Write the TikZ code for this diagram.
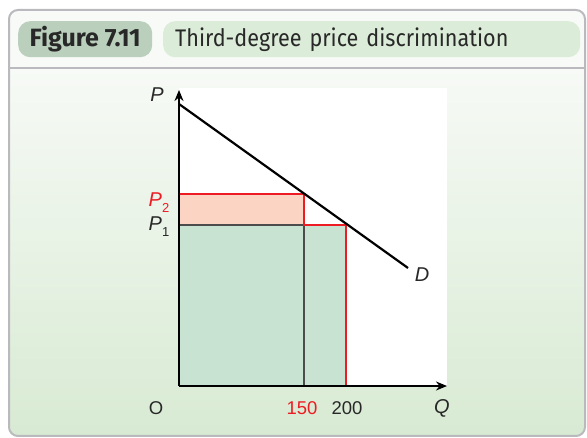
\documentclass[tikz,border=0pt]{standalone}
\usepackage{fontspec}
\setmainfont{Fira Sans}
\newfontfamily\headfont[FakeStretch=0.9]{Fira Sans}
\newfontfamily\figfont{Fira Sans}
\newfontfamily\axisfont{Liberation Sans}
\usetikzlibrary{arrows.meta,positioning}
\definecolor{framegray}{RGB}{186,186,190}
\definecolor{hdrbg}{RGB}{248,250,248}
\definecolor{pilldark}{RGB}{186,207,188}
\definecolor{pilllight}{RGB}{219,236,216}
\definecolor{bgtop}{RGB}{247,250,246}
\definecolor{bgbot}{RGB}{216,234,211}
\definecolor{peach}{RGB}{251,212,196}
\definecolor{greenfill}{RGB}{200,227,210}
\definecolor{figred}{RGB}{237,28,36}
\definecolor{ink}{RGB}{40,40,40}

\begin{document}
\begin{tikzpicture}[x=1pt, y=-1pt,
    pill/.style={rounded corners=12pt, minimum height=36pt, inner sep=0pt, anchor=north west, text=ink},
    axis/.style={line width=2pt, -{Stealth[length=11pt,width=9pt]}},
    demand/.style={line width=2.2pt},
    redline/.style={draw=figred, line width=2.8pt},
    guide/.style={draw=black!70, line width=1.4pt},
    lbl/.style={font=\axisfont\fontsize{18.5}{18.5}\selectfont, inner sep=0pt, text=ink},
    var/.style={font=\axisfont\itshape\fontsize{20}{20}\selectfont, inner sep=0pt, text=ink}
]
    \useasboundingbox (0,0) rectangle (587,438);
    \clip (0,0) rectangle (587,438);

    % Frame
    \fill[hdrbg, rounded corners=9pt] (9,10) rectangle (585,436);
    \begin{scope}
        \clip[rounded corners=9pt] (9,10) rectangle (585,436);
        \shade[top color=bgtop, bottom color=bgbot] (9,68) rectangle (585,436);
    \end{scope}
    \draw[framegray, line width=2pt, rounded corners=9pt] (9,10) rectangle (585,436);
    \draw[framegray, line width=2pt] (9,68) -- (585,68);

    % Header
    \node[pill, fill=pilldark, minimum width=134pt, font=\figfont\bfseries\fontsize{25}{25}\selectfont] (fignum) at (18,21) {Figure 7.11};
    \node[pill, fill=pilllight, text width=393pt, inner xsep=12pt, align=left, font=\headfont\fontsize{24}{24}\selectfont] (title) at (163,21) {Third-degree price discrimination};

    % Plot area
    \coordinate (O) at (179,386);
    \fill[white] (179,88) rectangle (447,386);

    % Revenue areas
    \fill[peach] (179,194) rectangle (304,225);
    \fill[greenfill] (179,225) rectangle (346,386);

    % Price lines
    \draw[guide] (179,225) -- (304,225) -- (304,386);
    \draw[redline] (179,194) -| (304,225) -| (346,386);

    % Demand
    \draw[demand] (179,104) -- (408,268);

    % Axes
    \draw[axis] (O) -- (179,90);
    \draw[axis] (O) -- (447,386);

    % Labels
    \node[var] (plbl) at (157,95) {P};
    \node[var, text=figred] (p2lbl) at (159,203) {P\raisebox{-0.3em}{\upshape\fontsize{13}{13}\selectfont 2}};
    \node[var] (p1lbl) at (159,227) {P\raisebox{-0.3em}{\upshape\fontsize{13}{13}\selectfont 1}};
    \node[lbl] (olbl) at (156,408) {O};
    \node[lbl, text=figred] (q150) at (302,408) {150};
    \node[lbl] (q200) at (347,408) {200};
    \node[var] (qlbl) at (442,408) {Q};
    \node[var] (dlbl) at (422,275) {D};
\end{tikzpicture}
\end{document}
